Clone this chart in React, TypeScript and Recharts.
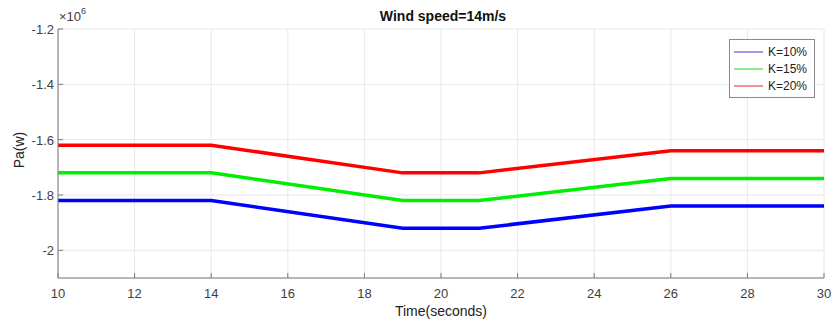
import React from 'react';
import { LineChart, Line, XAxis, YAxis, CartesianGrid } from 'recharts';

// Time axis (seconds) and active power of each compensation level (W)
const time = [10, 14, 19, 21, 26, 30];
const k10 = [-1.82e6, -1.82e6, -1.92e6, -1.92e6, -1.84e6, -1.84e6];
const k15 = [-1.72e6, -1.72e6, -1.82e6, -1.82e6, -1.74e6, -1.74e6];
const k20 = [-1.62e6, -1.62e6, -1.72e6, -1.72e6, -1.64e6, -1.64e6];

const xTicks = [10, 12, 14, 16, 18, 20, 22, 24, 26, 28, 30];
const yTicks = [-2e6, -1.8e6, -1.6e6, -1.4e6, -1.2e6];

const series = [
  { key: 'k10', name: 'K=10%', color: '#0000ff', legendColor: '#9a9aec' },
  { key: 'k15', name: 'K=15%', color: '#00ee00', legendColor: '#90ea90' },
  { key: 'k20', name: 'K=20%', color: '#ff0000', legendColor: '#f29494' },
];

const data = time.map((t, i) => ({ t, k10: k10[i], k15: k15[i], k20: k20[i] }));

const FONT = '"Liberation Sans", Arial, sans-serif';
const AXIS = '#7a7a7a';
const TEXT = '#404040';

const fmtY = (v: number) => String(parseFloat((v / 1e6).toFixed(1)));

// MATLAB-style ticks: short marks pointing into the plot
const BottomTick = (props: any) => {
  const { x, y, payload } = props;
  return (
    <g>
      <line x1={x} y1={y} x2={x} y2={y - 5} stroke={AXIS} />
      <text x={x} y={y + 20} textAnchor="middle" fill={TEXT} fontSize={13} fontFamily={FONT}>
        {payload.value}
      </text>
    </g>
  );
};
const TopTick = (props: any) => (
  <line x1={props.x} y1={props.y} x2={props.x} y2={props.y + 5} stroke={AXIS} />
);
const LeftTick = (props: any) => {
  const { x, y, payload } = props;
  return (
    <g>
      <line x1={x} y1={y} x2={x + 5} y2={y} stroke={AXIS} />
      <text x={x - 4} y={y + 5} textAnchor="end" fill={TEXT} fontSize={13} fontFamily={FONT}>
        {fmtY(payload.value)}
      </text>
    </g>
  );
};
const RightTick = (props: any) => (
  <line x1={props.x} y1={props.y} x2={props.x - 5} y2={props.y} stroke={AXIS} />
);

const LegendBox = () => (
  <div
    style={{
      position: 'absolute', top: 39, left: 729, width: 86, height: 59, boxSizing: 'border-box',
      border: '1px solid #8a8a8a', background: '#fff', padding: '3px 4px',
      fontFamily: FONT, fontSize: 12, color: '#222',
    }}
  >
    {series.map((s) => (
      <div key={s.key} style={{ display: 'flex', alignItems: 'center', height: 17 }}>
        <div style={{ width: 29, height: 2, background: s.legendColor, marginRight: 5 }} />
        <span>{s.name}</span>
      </div>
    ))}
  </div>
);

export default function App() {
  return (
    <div style={{ position: 'relative', width: 832, height: 322, background: '#fff' }}>
      <style>{'body{margin:0}'}</style>
      <LineChart
        width={832}
        height={322}
        data={data}
        margin={{ top: 29, right: 8, left: 8, bottom: 14 }}
      >
        <CartesianGrid stroke="#e8e8e8" xAxisId="b" yAxisId="l" />
        <XAxis
          xAxisId="b"
          dataKey="t"
          type="number"
          domain={[10, 30]}
          ticks={xTicks}
          height={30}
          tickSize={0}
          tickMargin={0}
          tickLine={false}
          axisLine={{ stroke: AXIS }}
          tick={<BottomTick />}
          interval={0}
        />
        <XAxis
          xAxisId="t"
          orientation="top"
          dataKey="t"
          type="number"
          domain={[10, 30]}
          ticks={xTicks}
          height={0}
          tickSize={0}
          tickMargin={0}
          tickLine={false}
          axisLine={{ stroke: AXIS }}
          tick={<TopTick />}
          interval={0}
        />
        <YAxis
          yAxisId="l"
          type="number"
          domain={[-2.1e6, -1.2e6]}
          ticks={yTicks}
          width={50}
          tickSize={0}
          tickMargin={0}
          tickLine={false}
          axisLine={{ stroke: AXIS }}
          tick={<LeftTick />}
          interval={0}
        />
        <YAxis
          yAxisId="r"
          orientation="right"
          type="number"
          domain={[-2.1e6, -1.2e6]}
          ticks={yTicks}
          width={0}
          tickSize={0}
          tickMargin={0}
          tickLine={false}
          axisLine={{ stroke: AXIS }}
          tick={<RightTick />}
          interval={0}
        />
        {series.map((s) => (
          <Line
            key={s.key}
            xAxisId="b"
            yAxisId="l"
            type="linear"
            dataKey={s.key}
            name={s.name}
            stroke={s.color}
            strokeWidth={3.5}
            dot={false}
            isAnimationActive={false}
          />
        ))}
      </LineChart>
      <LegendBox />
      <div
        style={{
          position: 'absolute', top: 8, left: 58, width: 770, textAlign: 'center',
          fontFamily: FONT, fontSize: 14, fontWeight: 'bold', color: '#111',
        }}
      >
        Wind speed=14m/s
      </div>
      <div
        style={{
          position: 'absolute', top: 9, left: 59, fontFamily: FONT, fontSize: 13, color: TEXT,
        }}
      >
        ×10<sup style={{ fontSize: 9, verticalAlign: 'top', position: 'relative', top: -3 }}>6</sup>
      </div>
      <div
        style={{
          position: 'absolute', top: 142, left: 1, transform: 'rotate(-90deg)',
          fontFamily: FONT, fontSize: 14, color: '#222',
        }}
      >
        Pa(w)
      </div>
      <div
        style={{
          position: 'absolute', top: 303, left: 58, width: 766, textAlign: 'center',
          fontFamily: FONT, fontSize: 14, color: '#222',
        }}
      >
        Time(seconds)
      </div>
    </div>
  );
}
